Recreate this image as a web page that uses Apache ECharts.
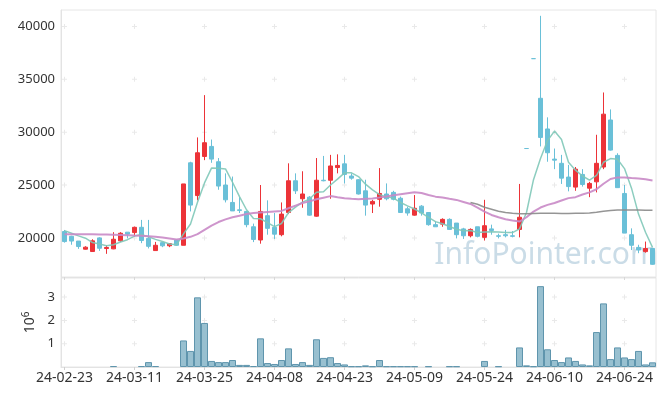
<!DOCTYPE html>
<html><head><meta charset="utf-8">
<script src="https://cdn.jsdelivr.net/npm/echarts@6/dist/echarts.min.js"></script>
<style>html,body{margin:0;padding:0;background:#fff}#c{width:665px;height:396px}</style>
</head><body><div id="c"></div>
<script>
const dates = ['24-02-23','24-02-26','24-02-27','24-02-28','24-02-29',
'24-03-04','24-03-05','24-03-06','24-03-07','24-03-08',
'24-03-11','24-03-12','24-03-13','24-03-14','24-03-15',
'24-03-18','24-03-19','24-03-20','24-03-21','24-03-22',
'24-03-25','24-03-26','24-03-27','24-03-28','24-03-29',
'24-04-01','24-04-02','24-04-03','24-04-04','24-04-05',
'24-04-08','24-04-09','24-04-11','24-04-12',
'24-04-15','24-04-16','24-04-17','24-04-18','24-04-19',
'24-04-22','24-04-23','24-04-24','24-04-25','24-04-26',
'24-04-29','24-04-30','24-05-02','24-05-03',
'24-05-07','24-05-08','24-05-09','24-05-10',
'24-05-13','24-05-14','24-05-16','24-05-17',
'24-05-20','24-05-21','24-05-22','24-05-23','24-05-24',
'24-05-27','24-05-28','24-05-29','24-05-30','24-05-31',
'24-06-03','24-06-04','24-06-05','24-06-07',
'24-06-10','24-06-11','24-06-12','24-06-13','24-06-14',
'24-06-17','24-06-18','24-06-19','24-06-20','24-06-21',
'24-06-24','24-06-25','24-06-26','24-06-27','24-06-28'];

const opens = [20600,20150,19700,18930,18710,20000,18990,18960,19720,20540,
20500,21000,19950,18800,19550,19250,19800,19300,27100,24000,
27700,28650,27200,25000,23350,22650,22500,21050,19800,22100,
21000,20300,22400,25400,23700,23850,22050,25450,25450,26650,
27000,25850,25500,24450,23200,23650,24150,24300,23750,22750,
22150,23000,22400,21250,21300,21750,21400,20850,20200,21050,
20050,20850,20200,20300,20200,20800,28450,36950,33200,30300,
27450,27050,25750,24800,26000,24700,25300,26700,31150,27800,
24200,20300,19100,18700,19000];

const closes = [19650,19700,19180,19120,19720,19020,19090,19870,20440,20350,
21000,19750,19200,19300,19250,19450,19300,25100,23100,28050,
29000,27450,24900,23600,22550,22600,21250,19850,22500,20900,
20350,22250,25400,24450,24150,22150,25450,25400,26800,26850,
26000,25650,24150,23100,23450,24200,23700,23650,22400,22350,
22800,22350,21250,21050,21750,20800,20300,20200,20800,20150,
21150,20700,20150,20200,20150,21950,28450,36950,29500,28050,
27350,25650,24850,26500,25050,25150,27050,31700,28300,24750,
20450,19300,18850,19000,17500];

const lows = [19550,19350,18960,18900,18700,18770,18490,18930,19620,19950,
20130,19500,19000,18800,19120,19120,19250,19300,22500,23550,
27350,27100,24550,23350,22550,22350,21000,19600,19450,20300,
19900,20150,22250,24150,22850,22100,22000,25350,23700,26100,
25150,25500,24100,22100,22350,22950,23550,23550,22350,22100,
22100,22100,21150,21050,21050,20750,19950,19900,20050,20050,
19750,20300,19950,20050,20050,20050,28450,36950,28650,27200,
26500,25100,24400,24450,24850,23850,24300,26500,28250,24750,
20450,18850,18550,18600,17450];

const highs = [20750,20200,19700,19210,19870,20060,19310,20540,20540,20540,
21070,21700,21700,19620,19620,19500,19850,25100,27200,29500,
33500,29300,27550,26100,25800,23850,22550,21350,25000,23550,
22350,23350,27050,26100,26300,23950,27550,27750,27850,27900,
27850,26100,25550,25500,23600,26600,25150,24450,23900,22950,
24050,23100,22400,21550,21850,21850,21400,20950,20900,21050,
23600,21250,20400,20750,20650,25100,28450,36950,41000,31400,
28450,27850,26900,26700,26500,25300,29750,33750,32150,28000,
25000,20900,19350,19650,19000];

// volume in millions of shares
const volumes = [0,0,0,0,0,0,0,0.04,0,0,
0,0.04,0.21,0.04,0,0,0,1.14,0.69,2.99,
1.89,0.26,0.21,0.21,0.30,0.09,0.09,0.04,1.23,0.17,
0.13,0.30,0.80,0.13,0.21,0.09,1.19,0.39,0.42,0.17,
0.11,0.03,0.03,0.07,0.03,0.30,0.03,0.03,0.03,0.03,
0.03,0,0.03,0,0,0.03,0.03,0,0,0,
0.26,0,0.03,0,0,0.84,0.07,0.03,3.47,0.76,
0.30,0.21,0.41,0.26,0.11,0.07,1.50,2.73,0.34,0.84,
0.41,0.34,0.69,0.11,0.20];

const ma5 = [20690,20440,20190,19970,19560,19420,19250,19350,19610,19830,
20170,20310,20100,19860,19660,19420,19340,20380,21310,23370,
25200,26600,26580,26520,25260,23900,22660,21840,21810,21440,
21060,21360,22380,22900,23380,23670,24310,24360,25000,25560,
26150,26150,25800,25080,24540,24090,23880,23760,23350,23030,
22730,22360,21930,21540,21330,21070,20820,20680,20690,20510,
20550,20580,20560,20520,20500,20850,22400,25500,27500,29200,
30100,29300,27150,26400,25850,25460,25900,27150,27500,27430,
26550,24700,22250,20530,19100];

const ma20 = [20350,20350,20350,20350,20340,20330,20310,20290,20270,20250,
20220,20200,20150,20100,20030,19950,19850,19950,20100,20350,
20750,21150,21500,21750,21950,22100,22250,22350,22400,22450,
22500,22550,22800,23050,23300,23450,23650,23800,23950,23840,
23750,23690,23650,23690,23720,23810,23910,24030,24130,24220,
24310,24250,24060,23900,23810,23690,23590,23400,23210,22870,
22490,22170,21950,21760,21640,21540,21950,22490,22870,23120,
23300,23530,23760,23850,24100,24300,24600,25120,25570,25720,
25720,25660,25620,25550,25430];

const ma60Start = 58;
const ma60 = [23340,23180,22900,22710,22520,22400,22330,22280,22270,22300,
22320,22330,22320,22310,22310,22320,22330,22360,22420,22510,
22580,22630,22640,22640,22640,22620,22610];

const priceTicks = [20000,25000,30000,35000,40000];
const volTicks = [1,2,3];
const labelEvery = 10;

const UP = '#ec3338', DOWN = '#6ac0d8';
const candleData = dates.map((d, i) => {
  const item = { value: [opens[i], closes[i], lows[i], highs[i]] };
  if (opens[i] === closes[i] && lows[i] === highs[i]) {
    item.itemStyle = { color: DOWN, color0: DOWN, borderColor: DOWN, borderColor0: DOWN };
  }
  return item;
});
const volData = volumes.map(v => (v === 0 ? '-' : v));
const ma60Data = dates.map((d, i) => i < ma60Start ? '-' : ma60[i - ma60Start]);
const labelIdx = dates.map((d, i) => i).filter(i => i % labelEvery === 0);
const priceMarks = [];
labelIdx.forEach(i => priceTicks.forEach(v => priceMarks.push([i, v])));
const volMarks = [];
labelIdx.forEach(i => volTicks.forEach(v => volMarks.push([i, v])));

const plus = 'path://M2,0h1v2h2v1h-2v2h-1v-2h-2v-1h2z';
const FONT = 'Noto Sans';

const chart = echarts.init(document.getElementById('c'), null, { renderer: 'canvas' });
chart.setOption({
  animation: false,
  backgroundColor: '#fff',
  grid: [
    { left: 61, right: 9, top: 10, height: 267, show: true, borderColor: '#e6e6e6', borderWidth: 1 },
    { left: 61, right: 9, top: 278, height: 89, show: true, borderColor: '#e6e6e6', borderWidth: 1 }
  ],
  xAxis: [
    { type: 'category', gridIndex: 0, data: dates, boundaryGap: true,
      axisLine: { lineStyle: { color: '#e3e3e3' } },
      axisTick: { show: true, interval: labelEvery - 1, alignWithLabel: true, length: 3, lineStyle: { color: '#d8d8d8' } },
      axisLabel: { show: false }, splitLine: { show: false } },
    { type: 'category', gridIndex: 1, data: dates, boundaryGap: true,
      axisLine: { lineStyle: { color: '#e3e3e3' } },
      axisTick: { show: true, interval: labelEvery - 1, alignWithLabel: true, length: 3, lineStyle: { color: '#d0d0d0' } },
      axisLabel: { interval: labelEvery - 1, color: '#333', fontSize: 14, fontFamily: FONT, margin: 4 },
      splitLine: { show: false } }
  ],
  yAxis: [
    { type: 'value', gridIndex: 0, min: 16300, max: 41550, splitNumber: 5, scale: true,
      axisLine: { show: true, lineStyle: { color: '#e3e3e3' } },
      axisTick: { show: false }, splitLine: { show: false },
      axisLabel: { color: '#333', fontSize: 13, fontFamily: FONT, margin: 6,
        showMinLabel: false, showMaxLabel: false,
        formatter: v => (priceTicks.indexOf(v) >= 0 ? String(v) : '') } },
    { type: 'value', gridIndex: 1, min: 0, max: 3.82, splitNumber: 4,
      axisLine: { show: true, lineStyle: { color: '#e3e3e3' } },
      axisTick: { show: false }, splitLine: { show: false },
      axisLabel: { color: '#333', fontSize: 13, fontFamily: FONT, margin: 6,
        showMinLabel: false, showMaxLabel: false,
        formatter: v => (volTicks.indexOf(v) >= 0 ? String(v) : '') },
      name: '{b|10}{s|6}', nameLocation: 'middle', nameRotate: 90, nameGap: 18,
      nameTextStyle: { rich: {
        b: { fontSize: 14, color: '#333', fontFamily: FONT, lineHeight: 18 },
        s: { fontSize: 10, color: '#333', fontFamily: FONT, verticalAlign: 'top', lineHeight: 12 }
      } } }
  ],
  graphic: [
    { type: 'text', right: 7, top: 240, z: -1, silent: true,
      style: { text: 'InfoPointer.com', font: '30px "Noto Sans"', fill: 'rgba(150,185,208,0.5)' } }
  ],
  series: [
    { type: 'scatter', xAxisIndex: 0, yAxisIndex: 0, data: priceMarks, symbol: plus, symbolSize: 5,
      itemStyle: { color: '#e3e3e3' }, silent: true, z: 1 },
    { type: 'scatter', xAxisIndex: 1, yAxisIndex: 1, data: volMarks, symbol: plus, symbolSize: 5,
      itemStyle: { color: '#e3e3e3' }, silent: true, z: 1 },
    { type: 'candlestick', xAxisIndex: 0, yAxisIndex: 0, data: candleData, barWidth: 5,
      itemStyle: { color: UP, color0: DOWN, borderColor: UP, borderColor0: DOWN, borderWidth: 1 } },
    { type: 'line', xAxisIndex: 0, yAxisIndex: 0, data: ma5, symbol: 'none',
      lineStyle: { color: '#80c8b8', width: 1.5, opacity: 0.9 } },
    { type: 'line', xAxisIndex: 0, yAxisIndex: 0, data: ma20, symbol: 'none',
      lineStyle: { color: '#c98ac6', width: 2, opacity: 0.9 } },
    { type: 'line', xAxisIndex: 0, yAxisIndex: 0, data: ma60Data, symbol: 'none',
      lineStyle: { color: '#8a8a8a', width: 1.5, opacity: 0.9 } },
    { type: 'bar', xAxisIndex: 1, yAxisIndex: 1, data: volData, barWidth: '100%',
      itemStyle: { color: '#98c0d0', borderColor: '#5f95ad', borderWidth: 1 } }
  ]
});
</script>
</body></html>
